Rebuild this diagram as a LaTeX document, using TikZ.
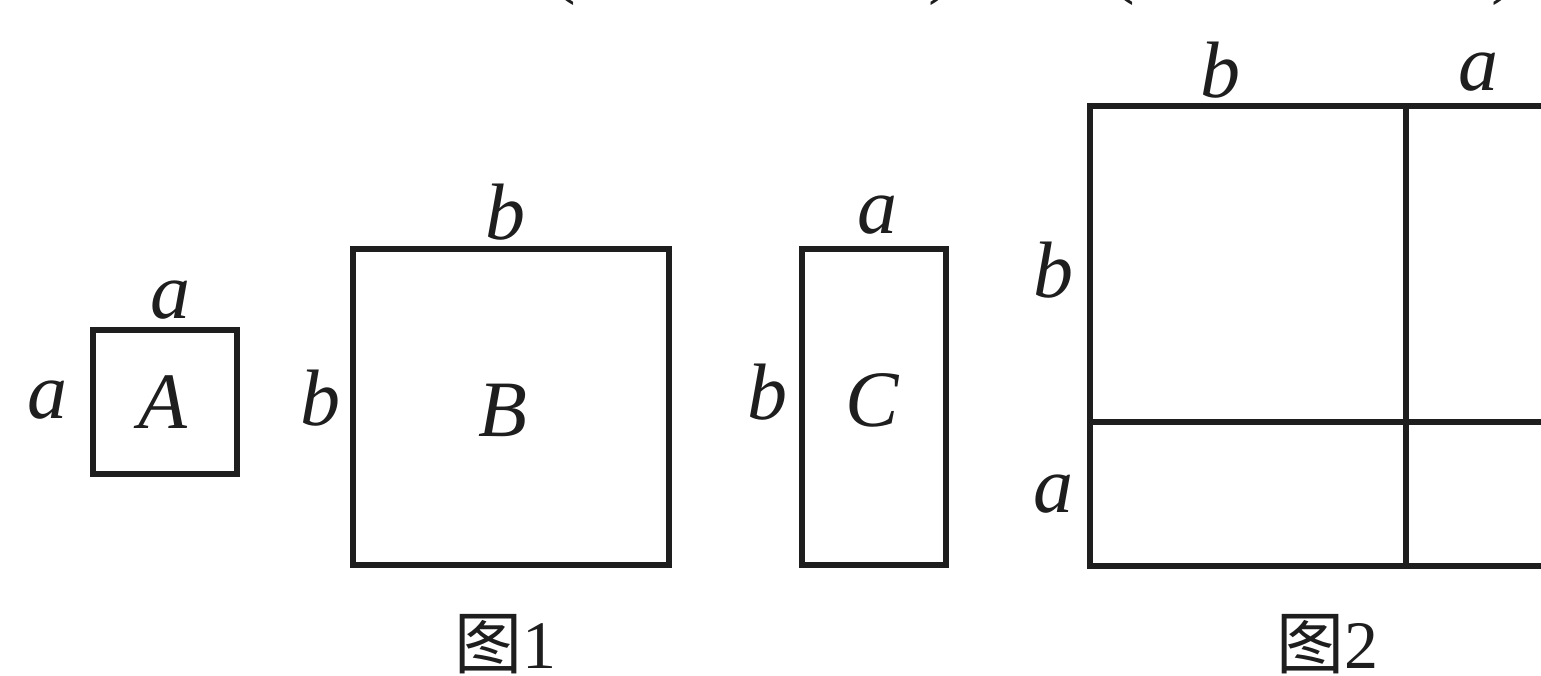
\documentclass[tikz,border=0pt]{standalone}
\usepackage{fontspec}
\setmainfont{Liberation Serif}
\newfontfamily\cjk{Noto Sans CJK SC}
\definecolor{ink}{HTML}{1E1E1E}
\newcommand{\gross}{\fontsize{40}{44}\selectfont}
\newcommand{\titelgr}{\fontsize{34}{38}\selectfont}
\tikzset{rand/.style={ink,line width=2.6pt,line join=miter},
  laenge/.style={inner sep=0,text=ink,font=\gross\itshape},
  feld/.style={inner sep=0,text=ink,font=\gross\itshape},
  klammer/.style={inner sep=0,text=ink,font=\gross},
  titel/.style={inner sep=0,text=ink,font=\titelgr}}

\begin{document}
\begin{tikzpicture}[x=0.5pt,y=-0.5pt]
\useasboundingbox (0,0) rectangle (1541,675);
\clip (0,0) rectangle (1541,675);
\node[klammer] (klauf1) at (563,-31) {(};
\node[klammer] (klzu1) at (942,-31) {)};
\node[klammer] (klauf2) at (1122,-31) {(};
\node[klammer] (klzu2) at (1505,-31) {)};
\draw[rand] (93,330) rectangle (237,474);
\node[laenge] (Aoben) at (170,300) {a};
\node[laenge] (Alinks) at (47,400) {a};
\node[feld] (A) at (163,402) {A};
\draw[rand] (353,249) rectangle (669,565);
\node[laenge] (Boben) at (505,212) {b};
\node[laenge] (Blinks) at (320,398) {b};
\node[feld] (B) at (503,410) {B};
\draw[rand] (802,249) rectangle (946,565);
\node[laenge] (Coben) at (877,215) {a};
\node[laenge] (Clinks) at (767,392) {b};
\node[feld] (C) at (872,400) {C};
\draw[rand] (1090,106) rectangle (1550,566);
\draw[rand] (1406,106) -- (1406,566);
\draw[rand] (1090,422) -- (1550,422);
\node[laenge] (Gob) at (1220,70) {b};
\node[laenge] (Goa) at (1478,72) {a};
\node[laenge] (Glb) at (1053,270) {b};
\node[laenge] (Gla) at (1053,494) {a};
\node[titel] (bild1) at (505,644) {{\cjk 图}1};
\node[titel] (bild2) at (1327,644) {{\cjk 图}2};
\end{tikzpicture}
\end{document}
